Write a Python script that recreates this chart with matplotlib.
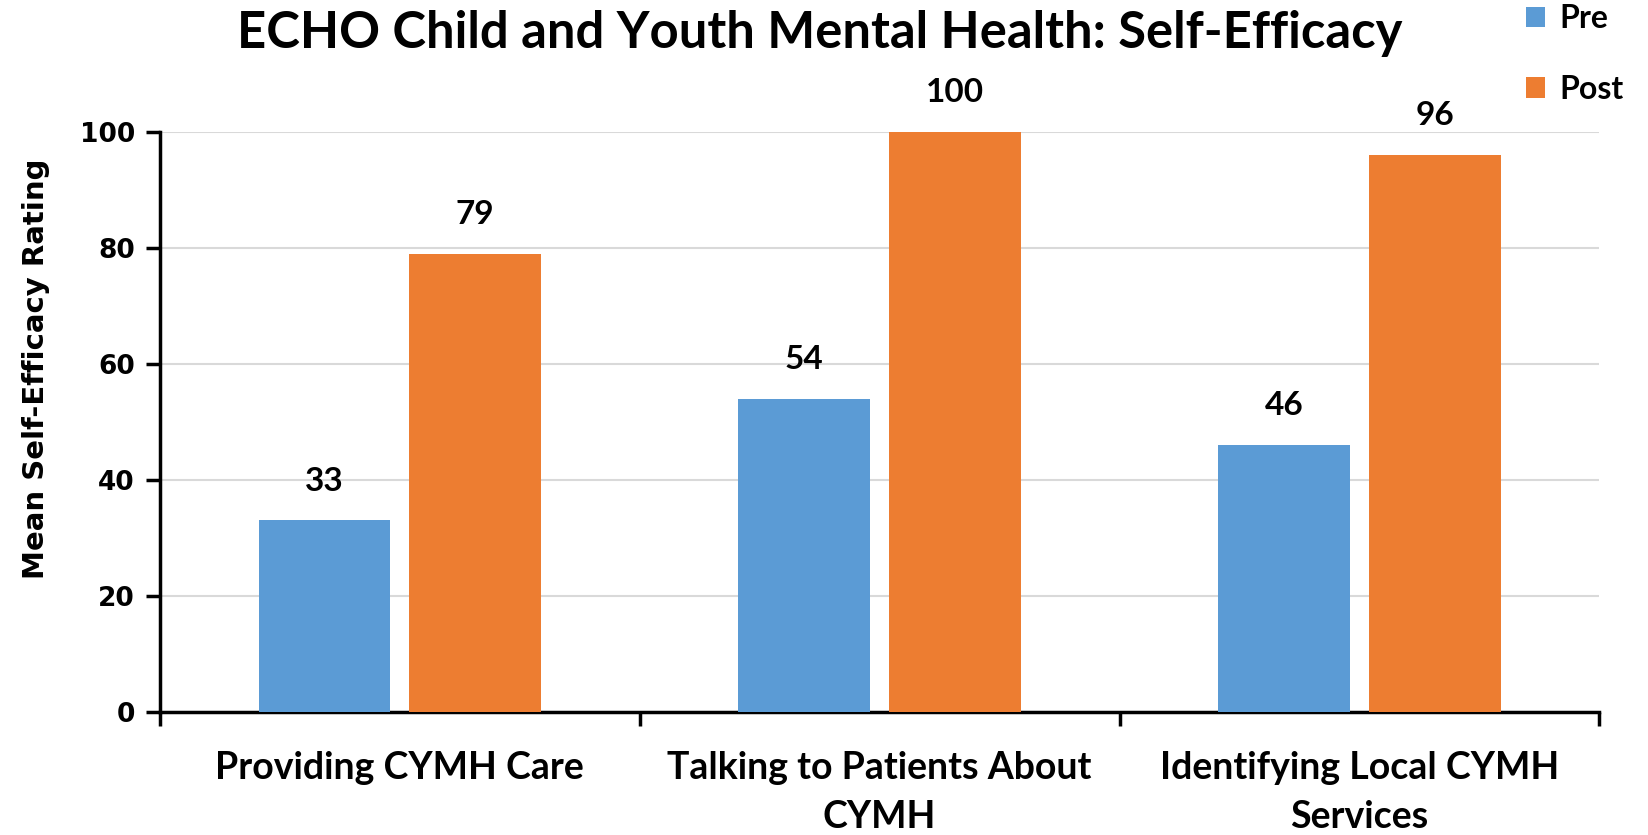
import numpy as np
import matplotlib.pyplot as plt

categories = ["Providing CYMH Care", "Talking to Patients About\nCYMH", "Identifying Local CYMH\nServices"]
pre = [33, 54, 46]
post = [79, 100, 96]
yticks = [0, 20, 40, 60, 80, 100]

label_font = ["Lato", "DejaVu Sans"]

fig = plt.figure(figsize=(16.49, 8.35), dpi=100)
ax = fig.add_axes([0.0969, 0.1476, 0.8730, 0.6943])

x = np.arange(len(categories))
w = 0.274
off = 0.157
b1 = ax.bar(x - off, pre, w, color="#5B9BD5", label="Pre", zorder=3)
b2 = ax.bar(x + off, post, w, color="#ED7D31", label="Post", zorder=3)

for bars, vals in ((b1, pre), (b2, post)):
    for b, v in zip(bars, vals):
        ax.text(b.get_x() + b.get_width() / 2, v + 6.8, str(v), ha="center", va="center",
                fontsize=24, fontweight="bold", family=label_font)

ax.set_xlim(-0.5, 2.5)
ax.set_ylim(0, 100)
ax.set_yticks(yticks)
ax.set_yticklabels([str(t) for t in yticks], fontsize=19, fontweight="bold", family="DejaVu Sans")
ax.yaxis.grid(True, color="#D9D9D9", linewidth=1.5, zorder=0)
ax.set_axisbelow(True)

ax.set_xticks(x)
ax.set_xticklabels(categories, fontsize=27, fontweight="bold", family=label_font, linespacing=1.55)
ax.tick_params(axis="x", which="major", length=0, pad=28)
ax.set_xticks([-0.5, 0.5, 1.5, 2.5], minor=True)
ax.tick_params(axis="x", which="minor", length=10, width=2.5, direction="out")
ax.tick_params(axis="y", length=10, width=2.5, direction="out", pad=8)

for s in ["top", "right"]:
    ax.spines[s].set_visible(False)
for s in ["left", "bottom"]:
    ax.spines[s].set_linewidth(2.5)

ax.set_ylabel("Mean Self-Efficacy Rating", fontsize=21, fontweight="bold")
ax.yaxis.set_label_coords(-0.076, 0.592)

fig.text(0.497, 0.96, "ECHO Child and Youth Mental Health: Self-Efficacy", ha="center", va="center",
         fontsize=36.5, fontweight="bold", family=label_font)

leg = ax.legend(loc="upper left", bbox_to_anchor=(0.929, 1.27), frameon=False,
                handlelength=0.6, handleheight=0.6, handletextpad=0.45, labelspacing=1.3,
                prop={"family": label_font, "weight": "bold", "size": 23})

fig.savefig("out.png", dpi=100)
